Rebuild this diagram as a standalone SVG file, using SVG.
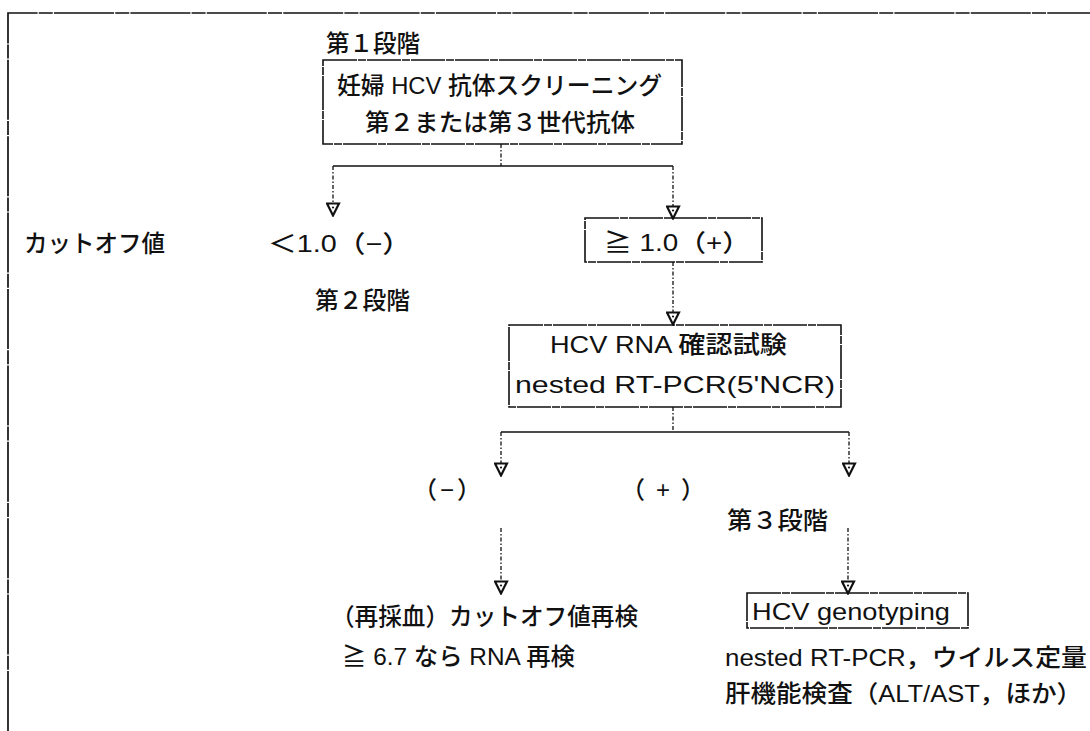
<svg xmlns="http://www.w3.org/2000/svg" width="1090" height="731" viewBox="0 0 1090 731">
<style>
text{font-family:"Liberation Sans","Noto Sans CJK JP",sans-serif;fill:#111;font-size:24px;font-weight:500;}
.box{fill:none;stroke:#111;stroke-width:1.6;stroke-dasharray:34 1 8 1;}
.h{fill:none;stroke:#111;stroke-width:1.6;}
.v{fill:none;stroke:#111;stroke-width:1.3;stroke-dasharray:4 2 1.5 2;}
.frame{fill:none;stroke:#111;stroke-width:1.7;stroke-dasharray:60 1.2 14 1.2;}
</style>
<defs>
<marker id="arr" viewBox="0 0 15 15" refX="14" refY="7.5" markerWidth="15" markerHeight="15" markerUnits="userSpaceOnUse" orient="auto">
<path d="M1.5,1.5 L13.5,7.5 L1.5,13.5 Z" fill="#fff" stroke="#111" stroke-width="2.2"/>
<circle cx="5.5" cy="7.5" r="1.1" fill="#111"/>
</marker>
</defs>
<path class="frame" d="M8,731 V13 H1090"/>
<g id="connectors">
<path class="v" d="M501,144 V166"/>
<path class="h" d="M333,166 H673"/>
<path class="v" d="M333,166 V216" marker-end="url(#arr)"/>
<path class="v" d="M673,166 V219" marker-end="url(#arr)"/>
<path class="v" d="M673,262 V325" marker-end="url(#arr)"/>
<path class="v" d="M673,407 V432"/>
<path class="h" d="M501,432 H849"/>
<path class="v" d="M501,432 V476" marker-end="url(#arr)"/>
<path class="v" d="M849,432 V476" marker-end="url(#arr)"/>
<path class="v" d="M501,528 V594" marker-end="url(#arr)"/>
<path class="v" d="M848,528 V594" marker-end="url(#arr)"/>
</g>
<g id="stage1-label"><text x="326" y="52" textLength="94" lengthAdjust="spacingAndGlyphs">第１段階</text></g>
<g id="screening">
<rect class="box" x="323" y="60" width="359" height="84"/>
<text x="337" y="94" textLength="325" lengthAdjust="spacingAndGlyphs">妊婦 HCV 抗体スクリーニング</text>
<text x="365" y="131" textLength="270" lengthAdjust="spacingAndGlyphs">第２または第３世代抗体</text>
</g>
<g id="cutoff-label"><text x="24" y="252" textLength="141" lengthAdjust="spacingAndGlyphs">カットオフ値</text></g>
<g id="neg1"><text x="268" y="252" textLength="143" lengthAdjust="spacingAndGlyphs">＜1.0（−）</text></g>
<g id="pos1">
<rect class="box" x="585" y="218" width="177" height="44"/>
<text x="604" y="251" textLength="146" lengthAdjust="spacingAndGlyphs">≧ 1.0（+）</text>
</g>
<g id="stage2-label"><text x="315" y="309" textLength="95" lengthAdjust="spacingAndGlyphs">第２段階</text></g>
<g id="rna-test">
<rect class="box" x="509" y="325" width="332" height="82"/>
<text x="550" y="353" textLength="237" lengthAdjust="spacingAndGlyphs">HCV RNA 確認試験</text>
<text x="515" y="393" textLength="320" lengthAdjust="spacingAndGlyphs">nested RT-PCR(5'NCR)</text>
</g>
<g id="neg2"><text x="413" y="498" textLength="68" lengthAdjust="spacing">（−）</text></g>
<g id="pos2"><text x="621" y="498" textLength="84" lengthAdjust="spacing">（+）</text></g>
<g id="stage3-label"><text x="727" y="529" textLength="101" lengthAdjust="spacingAndGlyphs">第３段階</text></g>
<g id="retest">
<text x="331" y="625" textLength="307" lengthAdjust="spacingAndGlyphs">（再採血）カットオフ値再検</text>
<text x="342" y="665" textLength="233" lengthAdjust="spacingAndGlyphs">≧ 6.7 なら RNA 再検</text>
</g>
<g id="genotyping">
<rect class="box" x="747" y="593" width="221" height="35"/>
<text x="752" y="620" textLength="198" lengthAdjust="spacingAndGlyphs">HCV genotyping</text>
</g>
<g id="followup">
<text x="725" y="666" textLength="362" lengthAdjust="spacingAndGlyphs">nested RT-PCR，ウイルス定量</text>
<text x="725" y="702" textLength="357" lengthAdjust="spacingAndGlyphs">肝機能検査（ALT/AST，ほか）</text>
</g>
</svg>
